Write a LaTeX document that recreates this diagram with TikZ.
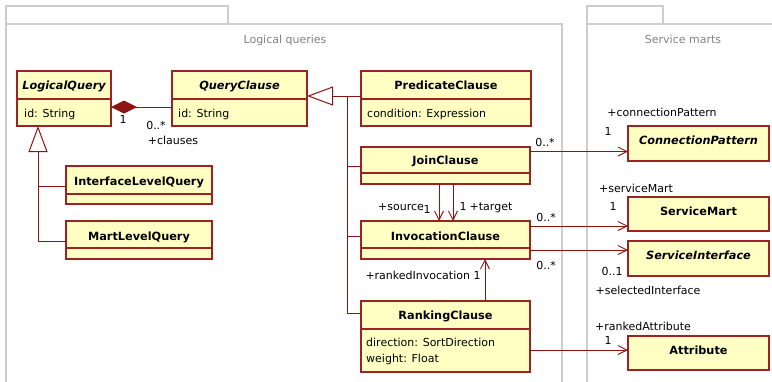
\documentclass[tikz,border=0pt]{standalone}
\usepackage{fontspec}
\setmainfont{DejaVu Sans}
\usetikzlibrary{arrows.meta}
\definecolor{boxfill}{RGB}{255,255,196}
\definecolor{boxline}{RGB}{155,35,35}
\definecolor{conn}{RGB}{140,20,20}
\definecolor{pkg}{RGB}{205,205,205}
\definecolor{pkgtext}{RGB}{130,130,130}
\newcommand\umlbox[5]{\node[clsbox, anchor=north west, minimum width=#4pt, minimum height=#5pt] (#1) at (#2,#3) {};}
\newcommand\umldiv[2]{\draw[divline] ([yshift=-#2pt]#1.north west) -- ([yshift=-#2pt,xshift=1pt]#1.north east);}
\begin{document}
\begin{tikzpicture}[x=1pt,y=-1pt,
  clsbox/.style={draw=boxline, fill=boxfill, line width=1.1pt, inner sep=0pt, outer sep=0pt, rectangle},
  divline/.style={draw=boxline, line width=1.1pt},
  txt/.style={font=\fontsize{11pt}{13pt}\selectfont, inner sep=0pt},
  cname/.style={txt, font=\fontsize{11.3pt}{13pt}\selectfont\bfseries, anchor=base},
  aname/.style={txt, font=\fontsize{11.3pt}{13pt}\selectfont\bfseries\itshape, anchor=base},
  attr/.style={txt, anchor=base west},
  lbl/.style={txt, anchor=base},
  cline/.style={draw=conn, line width=1pt},
  assoc/.style={cline, -{Straight Barb[length=9pt,width=9pt]}},
  gen/.style={cline, -{Triangle[length=26pt,width=19pt,fill=white]}},
  comp/.style={cline, {Diamond[length=26pt,width=13pt]}-},
  pkgline/.style={draw=pkg, line width=1.3pt},
  pkgtitle/.style={txt, text=pkgtext, anchor=base}]
\useasboundingbox (0,0) rectangle (772,381);

% packages
\draw[pkgline] (6,24) rectangle (228,6);
\draw[pkgline] (6,390) -- (6,24) -- (562,24) -- (562,390);
\node[pkgtitle] (lqpkg) at (285,43) {Logical queries};
\draw[pkgline] (587,24) rectangle (663,6);
\draw[pkgline] (587,390) -- (587,24) -- (780,24);
\node[pkgtitle] (smpkg) at (683,43) {Service marts};

% classes
\umlbox{lq}{17}{71}{94}{55}\umldiv{lq}{28}
\node[aname] (lqn) at (64,89) {LogicalQuery};
\node[attr] (lqa) at (24,117) {id: String};

\umlbox{qc}{172}{71}{135}{55}\umldiv{qc}{28}
\node[aname] (qcn) at (239.5,89) {QueryClause};
\node[attr] (qca) at (178,117) {id: String};

\umlbox{pc}{361}{71}{170}{55}\umldiv{pc}{28}
\node[cname] (pcn) at (446,89) {PredicateClause};
\node[attr] (pca) at (367,117) {condition: Expression};

\umlbox{jc}{361}{147}{169}{37}\umldiv{jc}{26}
\node[cname] (jcn) at (445.5,164) {JoinClause};

\umlbox{ic}{361}{221}{169}{38}\umldiv{ic}{27}
\node[cname] (icn) at (445.5,240) {InvocationClause};

\umlbox{rc}{361}{301}{169}{71}\umldiv{rc}{28}
\node[cname] (rcn) at (445.5,319) {RankingClause};
\node[attr] (rca1) at (366,346) {direction: SortDirection};
\node[attr] (rca2) at (366,362) {weight: Float};

\umlbox{ilq}{66}{166}{146}{38}\umldiv{ilq}{28}
\node[cname] (ilqn) at (139,185) {InterfaceLevelQuery};

\umlbox{mlq}{66}{221}{146}{38}\umldiv{mlq}{27}
\node[cname] (mlqn) at (139,240) {MartLevelQuery};

\umlbox{cp}{628}{126}{141}{35}
\node[aname] (cpn) at (698.5,144) {ConnectionPattern};
\umlbox{sm}{628}{197}{141}{34}
\node[cname] (smn) at (698.5,215) {ServiceMart};
\umlbox{si}{628}{241}{141}{35}
\node[aname] (sin) at (698.5,259) {ServiceInterface};
\umlbox{at}{628}{336}{141}{34}
\node[cname] (atn) at (698.5,354) {Attribute};

% composition
\draw[comp] ([yshift=-36pt]lq.north east) -- ([yshift=-36pt]qc.north west);
\node[lbl] (l1) at (123,123) {1};
\node[lbl] (l2) at (156,129) {0..*};
\node[lbl] (l3) at (173,144) {+clauses};

% generalization to QueryClause
\coordinate (g1) at (347,96);
\draw[cline] (g1) |- ([yshift=-19pt]jc.north west);
\draw[cline] (g1) |- ([yshift=-15pt]ic.north west);
\draw[cline] (g1) |- ([yshift=-12pt]rc.north west);
\draw[gen] ([yshift=-25pt]pc.north west) -- ([yshift=-25pt]qc.north east);

% generalization to LogicalQuery
\coordinate (g2) at (38,152);
\draw[cline] ([yshift=-20pt]mlq.north west) -| (g2);
\draw[gen] ([yshift=-20pt]ilq.north west) -| ([xshift=21pt]lq.south west);

% associations
\draw[assoc] ([yshift=-4.5pt]jc.north east) -- ([yshift=-25.5pt]cp.north west);
\node[lbl] (l4) at (545,146) {0..*};
\node[lbl] (l5) at (608,135) {1};
\node[lbl] (l6) at (662,116) {+connectionPattern};

\draw[assoc] ([xshift=78pt]jc.south west) -- ([xshift=78pt]ic.north west);
\draw[assoc] ([xshift=92pt]jc.south west) -- ([xshift=92pt]ic.north west);
\node[lbl] (l7) at (401,210) {+source};
\node[lbl] (l8) at (427,213) {1};
\node[lbl] (l9) at (463,210) {1};
\node[lbl] (l10) at (491,210) {+target};

\draw[assoc] ([yshift=-5pt]ic.north east) -- ([yshift=-29pt]sm.north west);
\node[lbl] (l11) at (546,221) {0..*};
\node[lbl] (l12) at (636,192) {+serviceMart};
\node[lbl] (l13) at (613,210) {1};

\draw[assoc] ([yshift=-29pt]ic.north east) -- ([yshift=-9pt]si.north west);
\node[lbl] (l14) at (546,269) {0..*};
\node[lbl] (l15) at (612,275) {0..1};
\node[lbl] (l16) at (648,294) {+selectedInterface};

\draw[assoc] ([xshift=124pt]rc.north west) -- ([xshift=124pt]ic.south west);
\node[lbl] (l17) at (423,279) {+rankedInvocation 1};

\draw[assoc] ([yshift=-49pt]rc.north east) -- ([yshift=-14pt]at.north west);
\node[lbl] (l18) at (643,330) {+rankedAttribute};
\node[lbl] (l19) at (608,344) {1};
\end{tikzpicture}
\end{document}
